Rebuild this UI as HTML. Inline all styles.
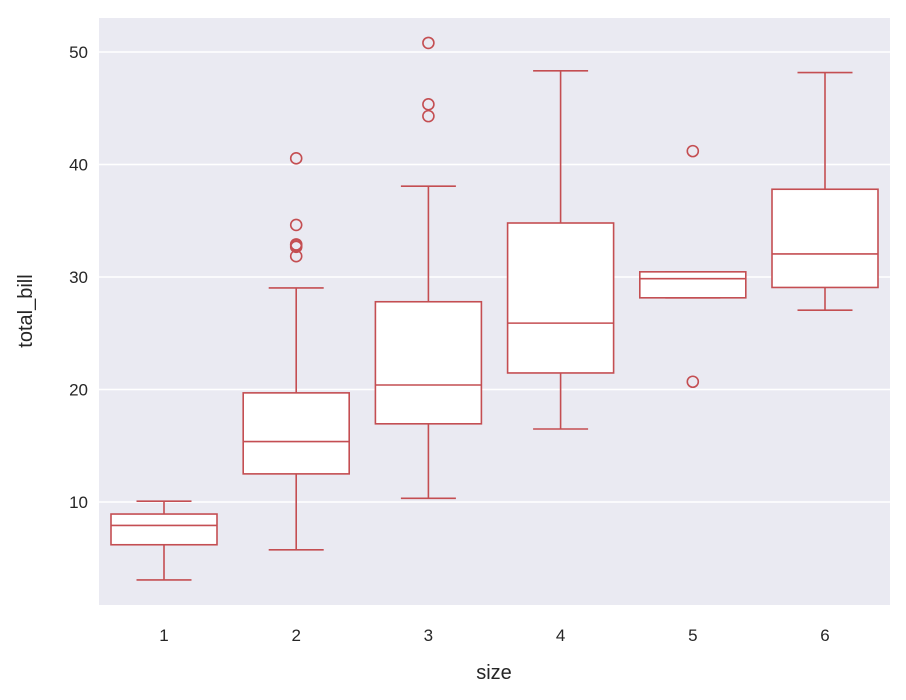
<!DOCTYPE html>
<html><head><meta charset="utf-8"><style>
body{margin:0;background:#fff;}
svg{display:block;font-family:"Liberation Sans",Arial,sans-serif;}
</style></head><body>
<svg id="chart" width="906" height="700">
<rect x="99" y="18" width="791" height="587" fill="#eaeaf2"/>
<g id="grid"></g><g id="boxes"></g><g id="axes"></g>
<text x="494" y="679" font-size="20" fill="#262626" text-anchor="middle">size</text>
<text x="0" y="0" font-size="20" fill="#262626" text-anchor="middle" transform="translate(32,311) rotate(-90)">total_bill</text>
</svg>
<script>
const categories=["1","2","3","4","5","6"];
const whiskerLow=[3.07,5.75,10.33,16.49,28.15,27.05];
const q1=[6.2,12.5,16.95,21.47,28.15,29.07];
const medians=[7.92,15.37,20.4,25.9,29.85,32.05];
const q3=[8.93,19.7,27.8,34.8,30.46,37.8];
const whiskerHigh=[10.07,29.03,38.07,48.33,30.46,48.17];
const outliers=[[],[40.55,34.63,32.9,32.83,32.68,31.85],[50.81,45.35,44.3],[],[41.19,20.69],[]];
const yTicks=[10,20,30,40,50];
const NS="http://www.w3.org/2000/svg";
const C="#c44e52";
function y(v){return 614.5-v*11.25;}
function x(i){return 164+i*132.2;}
function mk(tag,attrs,parent){const e=document.createElementNS(NS,tag);for(const k in attrs)e.setAttribute(k,attrs[k]);parent.appendChild(e);return e;}
const grid=document.getElementById('grid'),axes=document.getElementById('axes'),boxes=document.getElementById('boxes');
yTicks.forEach(t=>{
 const l=mk('line',{x1:99,x2:890,y1:y(t),y2:y(t),stroke:'#fff','stroke-width':1.5},grid);
 
 
 const tx=mk('text',{x:88,y:y(t)+6,'font-size':17,fill:'#262626','text-anchor':'end'},axes);
 tx.textContent=t;
 
 
});
categories.forEach((c,i)=>{
 const cx=x(i),hw=53,cw=27.5;
 const g=mk('g',{},boxes);
 
 
 const st={stroke:C,'stroke-width':1.6,fill:'none'};
 mk('line',Object.assign({x1:cx,x2:cx,y1:y(q1[i]),y2:y(whiskerLow[i])},st),g);
 mk('line',Object.assign({x1:cx,x2:cx,y1:y(q3[i]),y2:y(whiskerHigh[i])},st),g);
 mk('line',Object.assign({x1:cx-cw,x2:cx+cw,y1:y(whiskerLow[i]),y2:y(whiskerLow[i])},st),g);
 mk('line',Object.assign({x1:cx-cw,x2:cx+cw,y1:y(whiskerHigh[i]),y2:y(whiskerHigh[i])},st),g);
 mk('rect',{x:cx-hw,y:y(q3[i]),width:2*hw,height:y(q1[i])-y(q3[i]),fill:'#fff',stroke:C,'stroke-width':1.6},g);
 mk('line',Object.assign({x1:cx-hw,x2:cx+hw,y1:y(medians[i]),y2:y(medians[i])},st),g);
 outliers[i].forEach(o=>{
  const p=mk('circle',{cx:cx,cy:y(o),r:5.5,fill:'none',stroke:C,'stroke-width':1.6},g);
  
  
 });
 const tx=mk('text',{x:cx,y:641,'font-size':17,fill:'#262626','text-anchor':'middle'},axes);
 tx.textContent=c;
 
 
});
</script>
</body></html>
